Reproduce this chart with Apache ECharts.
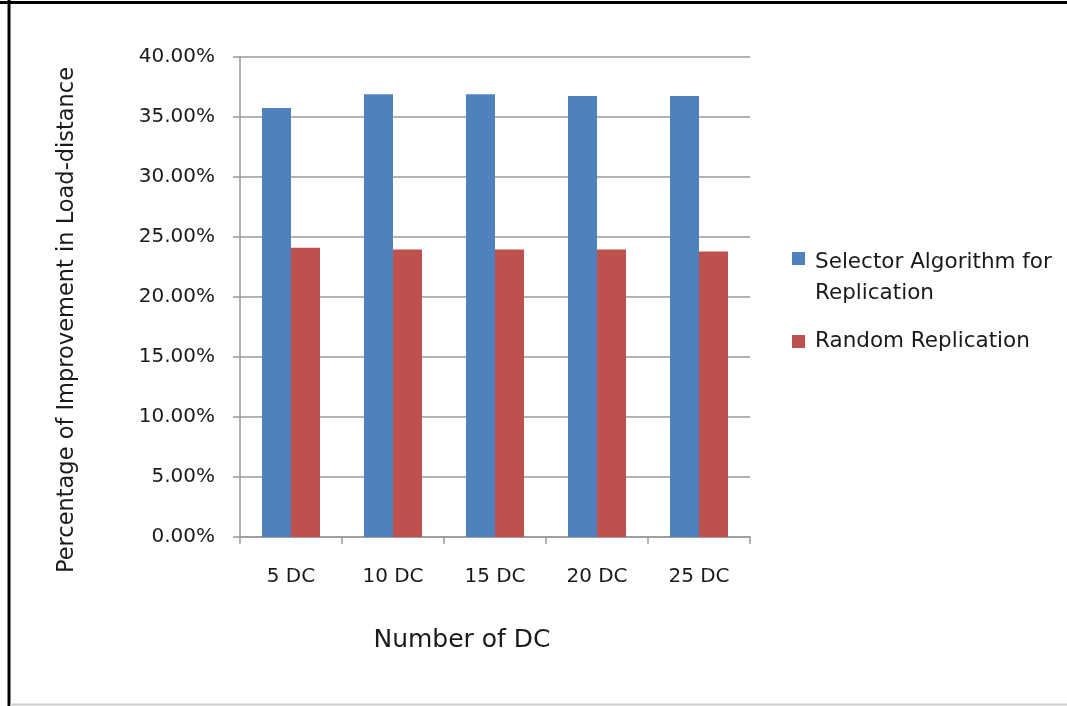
<!DOCTYPE html>
<html>
<head>
<meta charset="utf-8">
<script src="https://cdn.jsdelivr.net/npm/echarts@6/dist/echarts.min.js"></script>
<style>html,body{margin:0;padding:0;background:#fff}#c{width:1067px;height:706px}</style>
</head>
<body>
<div id="c"></div>
<script>
var categories = ['5 DC', '10 DC', '15 DC', '20 DC', '25 DC'];
var selectorValues = [35.75, 36.9, 36.9, 36.75, 36.75];
var randomValues = [24.1, 23.95, 23.95, 23.95, 23.8];
var seriesNames = ['Selector Algorithm for Replication', 'Random Replication'];
var yTitle = 'Percentage of Improvement in Load-distance';
var xTitle = 'Number of DC';

var FONT = 'DejaVu Sans';
var TXT = '#1a1a1a';
var chart = echarts.init(document.getElementById('c'));
chart.setOption({
  animation: false,
  backgroundColor: '#fff',
  graphic: [
    { type: 'line', shape: { x1: 9, y1: 0, x2: 9, y2: 706 }, style: { stroke: '#000', lineWidth: 3 } },
    { type: 'line', shape: { x1: 0, y1: 2.5, x2: 1067, y2: 2.5 }, style: { stroke: '#000', lineWidth: 3 } },
    { type: 'line', shape: { x1: 10, y1: 704.5, x2: 1067, y2: 704.5 }, style: { stroke: '#d0d0d0', lineWidth: 2 } }
  ],
  grid: { left: 240, right: 317, top: 57, bottom: 169, containLabel: false },
  legend: {
    orient: 'vertical',
    left: 787,
    top: 203,
    itemWidth: 13,
    itemHeight: 13,
    itemGap: 17,
    icon: 'rect',
    textStyle: {
      fontFamily: FONT, fontSize: 21.5, color: TXT, lineHeight: 31, padding: [0, 0, 0, 5],
      rich: {
        p: { fontFamily: FONT, fontSize: 21.5, lineHeight: 39 },
        a: { fontFamily: FONT, fontSize: 21.5, lineHeight: 31, color: TXT }
      }
    },
    data: [seriesNames[0], seriesNames[1]],
    formatter: function (n) {
      return n === seriesNames[0] ? '{p| }\n{a|Selector Algorithm for}\n{a|Replication}' : '{a|' + n + '}';
    }
  },
  xAxis: {
    type: 'category',
    data: categories,
    name: xTitle,
    nameLocation: 'middle',
    nameGap: 91,
    nameTextStyle: { fontFamily: FONT, fontSize: 25, color: TXT, padding: [0, 66, 0, 0] },
    axisLine: { lineStyle: { color: '#999', width: 1.5 } },
    axisTick: { show: true, length: 7, lineStyle: { color: '#999', width: 1.5 } },
    axisLabel: { fontFamily: FONT, fontSize: 20, color: TXT, margin: 30 }
  },
  yAxis: {
    type: 'value',
    min: 0, max: 40, interval: 5,
    name: yTitle,
    nameLocation: 'middle',
    nameGap: 161,
    nameTextStyle: { fontFamily: FONT, fontSize: 22.5, color: TXT, padding: [0, 46, 0, 0] },
    axisLine: { show: true, lineStyle: { color: '#999', width: 1.5 } },
    axisTick: { show: true, length: 7, lineStyle: { color: '#999', width: 1.5 } },
    splitLine: { lineStyle: { color: '#999', width: 1.5 } },
    axisLabel: { fontFamily: FONT, fontSize: 20, color: TXT, margin: 25, formatter: function (v) { return v.toFixed(2) + '%'; } }
  },
  series: [
    { name: seriesNames[0], type: 'bar', data: selectorValues, barWidth: 29, barGap: '0%', itemStyle: { color: '#4F81BD' } },
    { name: seriesNames[1], type: 'bar', data: randomValues, barWidth: 29, barGap: '0%', itemStyle: { color: '#C0504D' } }
  ]
});
</script>
</body>
</html>
